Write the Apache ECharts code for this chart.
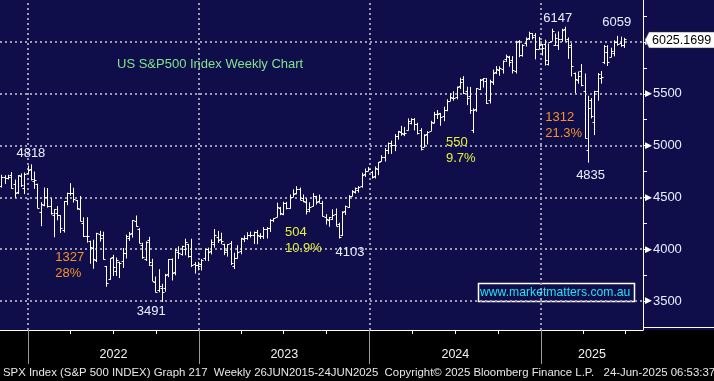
<!DOCTYPE html>
<html><head><meta charset="utf-8">
<script src="https://cdn.jsdelivr.net/npm/echarts@6/dist/echarts.min.js"></script>
<style>html,body{margin:0;padding:0;background:#100e4a}#c{width:714px;height:381px}</style>
</head><body><div id="c"></div><script>
// ---- data (weekly bars, Monday of each week, starting at firstWeek) ----
const firstWeek = '2021-11-01';
const open = [
4610,4701,4689,4712,4628,4549,4710,4588,4733,
4778,4655,4632,4357,4431,4505,4412,4332,4354,4328,4188,4462,4541,4547,4474,4385,4255,4130,4081,4013,3900,4151,4134,3838,3715,3920,3792,3880,3883,3965,4112,4155,4270,4195,4041,3909,4084,3849,3686,3609,3626,3622,3762,3901,3780,3977,3956,4005,4052,3939,3853,3843,
3853,3911,3999,3979,4049,4120,4096,4053,3992,4055,3835,3917,3983,4102,4110,4140,4134,4167,4124,4126,4191,4205,4283,4310,4396,4337,4450,4395,4505,4543,4584,4492,4458,4389,4420,4510,4463,4445,4310,4284,4289,4343,4239,4140,4365,4407,4512,4554,4569,4610,4725,4758,
4745,4703,4772,4853,4892,4957,5027,5004,5093,5131,5111,5154,5219,5257,5211,5149,4987,5114,5142,5221,5305,5315,5283,5341,5432,5460,5472,5572,5638,5525,5476,5151,5354,5545,5640,5624,5442,5616,5711,5726,5737,5835,5857,5823,5724,6007,5878,5992,6040,6084,6063,5929,5979,
5982,5792,6014,5969,5970,6030,6121,6026,5969,5705,5635,5718,5527,4953,5441,5232,5529,5655,5808,5902,5854,5896,6004,5987,5969];
const high = [
4718,4714,4718,4744,4672,4713,4731,4740,4808,
4819,4749,4632,4453,4595,4590,4490,4385,4416,4328,4465,4546,4637,4593,4474,4513,4308,4308,4082,4091,4158,4177,4169,3838,3913,3945,3919,3880,4012,4140,4167,4280,4325,4203,4062,4076,4119,3907,3736,3807,3666,3762,3905,3911,3999,4028,4034,4101,4052,4101,3877,3878,
3906,4003,4015,4094,4195,4176,4159,4053,4048,4079,3965,4039,4110,4133,4164,4170,4170,4186,4154,4213,4213,4290,4299,4449,4408,4458,4456,4528,4578,4608,4595,4528,4491,4452,4541,4515,4527,4466,4338,4310,4385,4393,4255,4366,4421,4521,4569,4595,4609,4738,4778,4793,
4755,4798,4842,4907,4975,5030,5048,5111,5141,5190,5180,5262,5264,5265,5220,5168,5109,5139,5239,5325,5342,5315,5375,5447,5505,5524,5570,5655,5670,5568,5566,5360,5555,5643,5651,5651,5636,5733,5767,5765,5822,5878,5866,5863,6012,6018,5978,6044,6099,6085,6085,6049,5980,
6022,5986,6128,6081,6101,6127,6147,6043,5987,5705,5715,5787,5695,5481,5459,5528,5700,5720,5969,5968,5944,6016,6059,6051,6040];
const low = [
4595,4630,4672,4585,4495,4532,4600,4531,4733,
4663,4582,4395,4222,4414,4401,4333,4115,4279,4157,4161,4424,4517,4450,4381,4270,4117,4063,3859,3811,3875,4074,3900,3637,3705,3741,3742,3721,3819,3910,4080,4112,4218,4057,3907,3886,3838,3693,3584,3584,3491,3590,3730,3698,3748,3906,3938,3941,3918,3827,3765,3795,
3794,3888,3885,3949,4015,4060,4048,3943,3928,3847,3808,3908,3951,4069,4091,4113,4049,4048,4099,4099,4103,4166,4261,4308,4328,4328,4385,4391,4505,4528,4474,4453,4335,4356,4414,4430,4448,4316,4238,4216,4283,4223,4103,4127,4330,4399,4511,4537,4546,4593,4698,4751,
4682,4682,4714,4845,4846,4918,4920,4946,5057,5095,5091,5144,5204,5146,5107,4953,4987,5011,5142,5218,5257,5191,5235,5331,5432,5433,5446,5545,5497,5390,5306,5120,5326,5535,5560,5402,5406,5585,5690,5674,5695,5809,5762,5696,5696,5853,5858,5956,6019,6025,5832,5929,5869,
5773,5773,6012,5962,5923,6003,6009,5837,5667,5505,5597,5572,5069,4835,5263,5101,5433,5598,5786,5768,5854,5861,5964,5953,5943];
const close = [
4697,4683,4698,4595,4538,4712,4621,4726,4766,
4677,4663,4398,4432,4501,4419,4349,4385,4329,4204,4463,4543,4546,4488,4393,4272,4132,4123,4024,3901,4158,4109,3901,3675,3912,3825,3899,3863,3962,4130,4145,4280,4228,4058,3924,4067,3873,3693,3586,3640,3583,3753,3901,3771,3993,3965,4026,4072,3934,3852,3845,3840,
3895,3999,3973,4071,4136,4090,4079,3970,4046,3862,3917,3971,4109,4105,4138,4133,4169,4136,4124,4192,4205,4282,4299,4410,4348,4450,4399,4505,4536,4582,4478,4464,4370,4406,4516,4457,4450,4320,4288,4308,4327,4224,4117,4358,4415,4514,4559,4595,4604,4719,4755,4770,
4697,4784,4840,4891,4959,5027,5006,5089,5137,5124,5117,5234,5254,5204,5123,4967,5100,5128,5223,5303,5305,5278,5347,5432,5464,5460,5567,5615,5505,5459,5347,5344,5554,5634,5648,5408,5626,5703,5738,5751,5815,5865,5808,5729,5996,5870,5969,6032,6090,6051,5931,5971,5942,
5827,5997,6101,6041,6026,6115,6013,5955,5770,5639,5668,5581,5074,5363,5283,5525,5687,5660,5958,5803,5912,6000,5977,5968,6025.17];
const lastPrice = 6025.1699;

// ---- axis labels ----
const yearLabels = ['2022', '2023', '2024', '2025'];
const priceTicks = [3500, 4000, 4500, 5000, 5500, 6000];
const priceMinorTicks = [3250, 3500, 3750, 4000, 4250, 4500, 4750, 5000, 5250, 5500, 5750, 6000, 6250];

// ---- annotations (text anchored at date/value) ----
const annotationTexts = ['4818', '1327\n28%', '3491', '504\n10.9%', '4103', '550\n9.7%', '1312\n21.3%', '6147', '6059', '4835'];
const annotationDates = ['2022-01-07', '2022-02-28', '2022-09-21', '2023-07-04', '2023-11-20', '2024-06-12', '2025-01-10', '2025-02-06', '2025-06-12', '2025-04-17'];
const annotationValues = [4929, 3847, 3403, 4089, 3973, 4957, 5194, 6232, 6193, 4711];
const annotationKinds = ['level', 'fall', 'level', 'rise', 'level', 'rise', 'fall', 'level', 'level', 'level'];

const titleText = 'US S&P500 Index Weekly Chart';
const watermarkText = 'www.marketmatters.com.au';
const footerText = 'SPX Index (S&P 500 INDEX) Graph 217  Weekly 26JUN2015-24JUN2025  Copyright\u00A9 2025 Bloomberg Finance L.P.   24-Jun-2025 06:53:37';

// ---- helpers ----
const DAY = 86400000;
const ORIGIN = Date.UTC(2022, 0, 1);
function dayOf(s) { const p = s.split('-').map(Number); return (Date.UTC(p[0], p[1] - 1, p[2]) - ORIGIN) / DAY; }
const X_MIN = -60, X_MAX = 1314;
const firstDay = dayOf(firstWeek);
const barData = open.map((o, i) => [firstDay + i * 7 + 4, o, high[i], low[i], close[i]]);
const yearStarts = yearLabels.map(y => dayOf(y + '-01-01'));
const yearMids = yearStarts.map((s, i) => {
  const e = i + 1 < yearStarts.length ? yearStarts[i + 1] : X_MAX;
  return (s + e) / 2;
});
const quarterTicks = [];
yearLabels.forEach(y => ['04', '07', '10'].forEach(m => { const d = dayOf(y + '-' + m + '-01'); if (d < X_MAX) quarterTicks.push(d); }));
const annData = annotationTexts.map((t, i) => [dayOf(annotationDates[i]), annotationValues[i], i]);
const kindColor = { level: '#eaf0ff', fall: '#f5922b', rise: '#e4f03a' };

const chart = echarts.init(document.getElementById('c'), null, { renderer: 'canvas' });

function renderBar(params, api) {
  const x = api.value(0);
  const pH = api.coord([x, api.value(2)]);
  const pL = api.coord([x, api.value(3)]);
  const yO = Math.round(api.coord([x, api.value(1)])[1]) + 0.5;
  const yC = Math.round(api.coord([x, api.value(4)])[1]) + 0.5;
  const cx = Math.round(pH[0]) + 0.5;
  const st = { stroke: '#ffffff', lineWidth: 1 };
  return {
    type: 'group', children: [
      { type: 'line', shape: { x1: cx, y1: pH[1], x2: cx, y2: pL[1] }, style: st },
      { type: 'line', shape: { x1: cx - 2, y1: yO, x2: cx, y2: yO }, style: st },
      { type: 'line', shape: { x1: cx, y1: yC, x2: cx + 2, y2: yC }, style: st }
    ]
  };
}

function renderAnn(params, api) {
  const p = api.coord([api.value(0), api.value(1)]);
  const i = api.value(2);
  const kind = annotationKinds[i];
  return {
    type: 'text', x: p[0], y: p[1],
    style: {
      text: annotationTexts[i], fill: kindColor[kind],
      font: '13px "Liberation Sans", Arial, sans-serif',
      align: kind === 'level' ? 'center' : 'left', verticalAlign: 'middle', lineHeight: 16
    }
  };
}

function renderLast(params, api) {
  const p = api.coord([api.value(0), api.value(1)]);
  const x = p[0], y = Math.round(p[1]) + 1;
  return {
    type: 'group', children: [
      { type: 'polygon', shape: { points: [[x + 2, y], [x + 6, y - 8], [716, y - 8], [716, y + 8], [x + 6, y + 8]] },
        style: { fill: '#ffffff', stroke: '#333333', lineWidth: 0.5 } },
      { type: 'text', x: x + 9, y: y + 0.5, style: { text: api.value(1).toFixed(4), fill: '#000000', font: '12.5px "Liberation Sans", Arial, sans-serif', verticalAlign: 'middle' } }
    ]
  };
}

const gridLineStyle = { color: '#9d9db0', type: [2, 3], width: 2 };

chart.setOption({
  animation: false,
  backgroundColor: '#100e4a',
  grid: { left: 0, right: 71, top: 0, bottom: 51 },
  xAxis: [{
    type: 'value', min: X_MIN, max: X_MAX, position: 'bottom',
    axisLine: { show: true, onZero: false, lineStyle: { color: '#ffffff', width: 1 } },
    axisTick: { show: true, customValues: quarterTicks, length: 4, lineStyle: { color: '#ffffff' } },
    axisLabel: {
      show: true, customValues: yearMids, margin: 18,
      formatter: v => { const i = yearMids.indexOf(v); return i >= 0 ? yearLabels[i] : ''; },
      color: '#f2f2f2', fontSize: 12.5, fontFamily: '"Liberation Sans", Arial, sans-serif'
    },
    splitLine: { show: false }
  }, {
    type: 'value', min: X_MIN, max: X_MAX, position: 'bottom',
    axisLine: { show: false, onZero: false },
    axisTick: { show: true, customValues: yearStarts, length: 34, lineStyle: { color: '#9a9a9a', width: 1 } },
    axisLabel: { show: false },
    splitLine: { show: false }
  }],
  yAxis: {
    type: 'value', position: 'right', min: 3220, max: 6405,
    axisLine: { show: true, onZero: false, lineStyle: { color: '#ffffff', width: 1 } },
    axisTick: { show: true, customValues: priceMinorTicks, length: 4, lineStyle: { color: '#ffffff' } },
    axisLabel: {
      show: true, customValues: priceTicks, margin: 2,
      formatter: v => '{t|\u25B6}{v|' + v + '}',
      rich: {
        t: { fontSize: 9, color: '#ffffff', fontFamily: '"DejaVu Sans"' },
        v: { fontSize: 13, color: '#e6eeff', fontFamily: '"Liberation Sans", Arial, sans-serif', padding: [0, 0, 0, 1] }
      }
    },
    splitLine: { show: false }
  },
  series: [{
    type: 'custom', name: 'SPX', renderItem: renderBar, data: barData,
    dimensions: ['day', 'open', 'high', 'low', 'close'],
    encode: { x: 0, y: [1, 2, 3, 4] }, z: 3, clip: true,
    markLine: {
      silent: true, symbol: ['none', 'none'], z: 1, animation: false,
      label: { show: false }, lineStyle: gridLineStyle,
      data: priceTicks.map(v => ({ yAxis: v })).concat(yearStarts.map(d => ({ xAxis: d })))
    }
  }, {
    type: 'custom', name: 'notes', renderItem: renderAnn, data: annData,
    encode: { x: 0, y: 1 }, z: 4, clip: false, silent: true
  }, {
    type: 'custom', name: 'last', renderItem: renderLast, data: [[X_MAX, lastPrice]],
    encode: { x: 0, y: 1 }, z: 5, clip: false, silent: true
  }],
  graphic: [
    { type: 'rect', left: 0, top: 330, shape: { width: 714, height: 51 }, style: { fill: '#000000' }, z: -1 },
    { type: 'line', shape: { x1: 644, y1: 327.5, x2: 714, y2: 327.5 }, style: { stroke: '#ffffff', lineWidth: 1 }, z: 1 },
    { type: 'text', left: 117, top: 58, style: { text: titleText, fill: '#82e38c', font: '13px "Liberation Sans", Arial, sans-serif' }, z: 10 },
    {
      type: 'group', left: 476, top: 281, z: 10, children: [
        { type: 'rect', shape: { x: 0.5, y: 0.5, width: 156, height: 18 }, style: { fill: 'none', stroke: '#ffffff', lineWidth: 1.5 } },
        { type: 'text', x: 2, y: 10, style: { text: watermarkText, fill: '#1ee3f3', font: '12.2px "Liberation Sans", Arial, sans-serif', verticalAlign: 'middle' } }
      ]
    },
    { type: 'text', left: 3, top: 367, style: { text: footerText, fill: '#e8e8e8', font: '11.4px "Liberation Sans", Arial, sans-serif' }, z: 10 }
  ]
});
</script></body></html>
